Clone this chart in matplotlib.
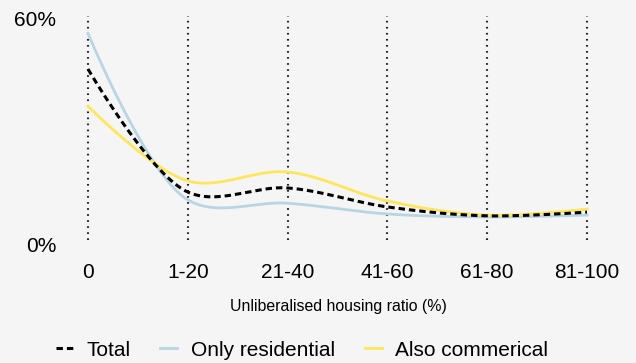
import numpy as np
import matplotlib
matplotlib.use("Agg")
import matplotlib.pyplot as plt
from matplotlib.lines import Line2D

plt.rcParams['font.family'] = ['Liberation Sans', 'DejaVu Sans']

categories = ["0", "1-20", "21-40", "41-60", "61-80", "81-100"]
total = [46.0, 12.9, 14.0, 8.9, 6.5, 7.5]
only_residential = [55.6, 10.8, 9.9, 7.0, 6.2, 6.7]
also_commercial = [36.0, 15.9, 18.3, 10.5, 6.7, 8.3]
y_tick_labels = ["0%", "60%"]

BG = "#f5f5f5"
BLUE = "#b9d5e4"
YELLOW = "#ffe65c"
W, H = 636, 363
X0, X1, Y0, Y1 = 88, 587, 240, 17  # plot area in pixels


def catmull_rom_centripetal(px, py, alpha=0.5, n=50):
    """Centripetal Catmull-Rom curve through pixel-space points,
    with open ends (first/last control point equals the end point)."""
    P = np.column_stack([px, py]).astype(float)
    k = len(P)
    out = [P[0][None, :]]
    t = np.linspace(0, 1, n)[1:, None]
    for i in range(k - 1):
        p1, p2 = P[i], P[i + 1]
        d12 = np.linalg.norm(p2 - p1)
        l12, l12_2a = d12 ** alpha, d12 ** (2 * alpha)
        c1 = p1.copy()
        if i > 0:
            d01 = np.linalg.norm(p1 - P[i - 1])
            l01, l01_2a = d01 ** alpha, d01 ** (2 * alpha)
            a = 2 * l01_2a + 3 * l01 * l12 + l12_2a
            nn = 3 * l01 * (l01 + l12)
            c1 = (p1 * a - P[i - 1] * l12_2a + p2 * l01_2a) / nn
        c2 = p2.copy()
        if i + 2 < k:
            d23 = np.linalg.norm(P[i + 2] - p2)
            l23, l23_2a = d23 ** alpha, d23 ** (2 * alpha)
            b = 2 * l23_2a + 3 * l23 * l12 + l12_2a
            m = 3 * l23 * (l23 + l12)
            c2 = (p2 * b + p1 * l23_2a - P[i + 2] * l12_2a) / m
        seg = ((1 - t) ** 3 * p1 + 3 * (1 - t) ** 2 * t * c1
               + 3 * (1 - t) * t ** 2 * c2 + t ** 3 * p2)
        out.append(seg)
    return np.vstack(out)


def smooth(values):
    """Smooth path in data coordinates, built in pixel space."""
    xi = np.arange(len(values))
    sx = (X1 - X0) / (len(values) - 1)
    sy = (Y0 - Y1) / 60.0
    pts = catmull_rom_centripetal(xi * sx, np.asarray(values) * sy)
    return pts[:, 0] / sx, pts[:, 1] / sy


def fx(px):
    return px / W


def fy(py):
    return 1 - py / H


fig = plt.figure(figsize=(W / 100, H / 100), dpi=100, facecolor=BG)
ax = fig.add_axes([fx(X0), fy(Y0), (X1 - X0) / W, (Y0 - Y1) / H])
ax.set_facecolor(BG)

xi = np.arange(len(categories))
for xv in xi:
    ax.plot([xv, xv], [0, 60.3], color="#222222", lw=1.5,
            linestyle=(0, (0.8, 2.1)), clip_on=False, zorder=1)

sx, sy = smooth(only_residential)
ax.plot(sx, sy, color=BLUE, lw=2.0, clip_on=False, zorder=2)
sx, sy = smooth(also_commercial)
ax.plot(sx, sy, color=YELLOW, lw=2.0, clip_on=False, zorder=3)
sx, sy = smooth(total)
ax.plot(sx, sy, color="black", lw=2.2, linestyle=(0, (2.1, 1.3)),
        clip_on=False, zorder=4)

ax.set_xlim(0, len(categories) - 1)
ax.set_ylim(0, 60)
ax.set_xticks(xi)
ax.set_xticklabels(categories, fontsize=15)
for lbl in ax.get_xticklabels():
    lbl.set_va("baseline")
ax.tick_params(axis='x', length=0, pad=27.4)
ax.set_yticks([])
for s in ax.spines.values():
    s.set_visible(False)

# y-axis labels
fig.text(fx(56.5), fy(26), y_tick_labels[1], ha="right", va="baseline", fontsize=15)
fig.text(fx(56.5), fy(252), y_tick_labels[0], ha="right", va="baseline", fontsize=15)

fig.text(fx(338), fy(311.5), "Unliberalised housing ratio (%)",
         ha="center", va="baseline", fontsize=11.4)

handles = [
    Line2D([], [], color="black", lw=2.2, linestyle=(0, (2.1, 1.3))),
    Line2D([], [], color=BLUE, lw=2.0),
    Line2D([], [], color=YELLOW, lw=2.0),
]
fig.legend(handles, ["Total", "Only residential", "Also commerical"],
           loc="center", bbox_to_anchor=(fx(302), fy(350)), ncol=3,
           frameon=False, fontsize=15, handlelength=0.8, columnspacing=1.45,
           handletextpad=0.65, borderpad=0, borderaxespad=0)

fig.savefig("out.png", dpi=100, facecolor=BG)
